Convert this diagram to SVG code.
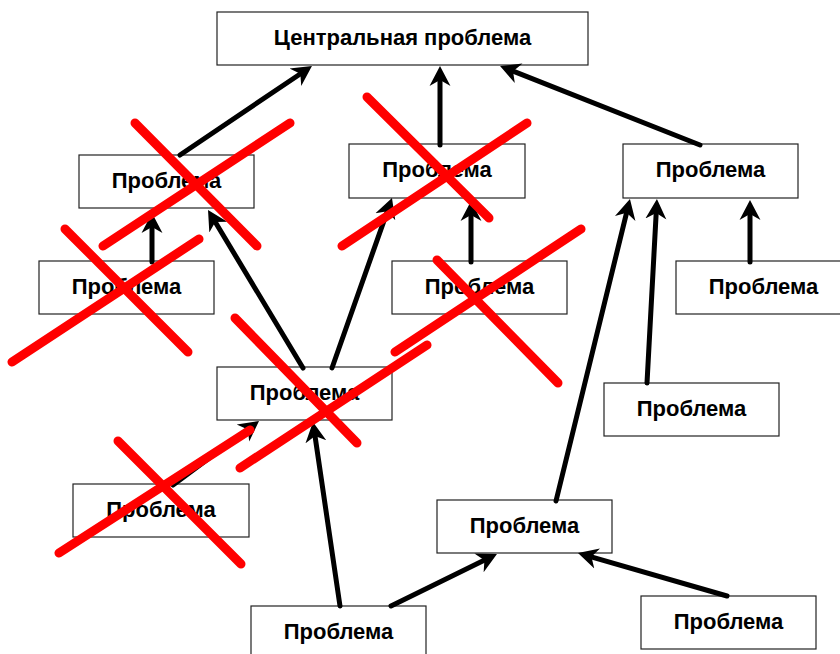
<svg xmlns="http://www.w3.org/2000/svg" width="840" height="654" viewBox="0 0 840 654">
<style>
.box{fill:#fff;stroke:#222;stroke-width:1.2}
.lbl{font-family:"Liberation Sans",Arial,sans-serif;font-weight:bold;font-size:22px;fill:#000;text-anchor:middle}
.arr{stroke:#000;stroke-width:5;stroke-linecap:round;fill:none;marker-end:url(#ah)}
.x{stroke:#ff0000;stroke-width:9;stroke-linecap:round;fill:none}
</style>
<defs>
<marker id="ah" markerUnits="userSpaceOnUse" markerWidth="24" markerHeight="24" viewBox="0 -12 24 24" refX="8" refY="0" orient="auto">
<path d="M0,-10.5 L20,0 L0,10.5 L6,0 Z" fill="#000"/>
</marker>
</defs>
<rect width="840" height="654" fill="#fff"/>
<g id="central"><rect class="box" x="217" y="12" width="371" height="53"/><text class="lbl" x="402.5" y="45">Центральная проблема</text></g>
<g id="nA"><rect class="box" x="79" y="155" width="175" height="53"/><text class="lbl" x="166.5" y="188">Проблема</text></g>
<g id="nB"><rect class="box" x="39" y="261" width="175" height="53"/><text class="lbl" x="126.5" y="294">Проблема</text></g>
<g id="nC"><rect class="box" x="349" y="144" width="176" height="54"/><text class="lbl" x="437" y="177">Проблема</text></g>
<g id="nD"><rect class="box" x="623" y="144" width="175" height="54"/><text class="lbl" x="710.5" y="177">Проблема</text></g>
<g id="nE"><rect class="box" x="392" y="261" width="175" height="53"/><text class="lbl" x="479.5" y="294">Проблема</text></g>
<g id="nF"><rect class="box" x="676" y="261" width="175" height="53"/><text class="lbl" x="763.5" y="294">Проблема</text></g>
<g id="nG"><rect class="box" x="217" y="367" width="175" height="53"/><text class="lbl" x="304.5" y="400">Проблема</text></g>
<g id="nH"><rect class="box" x="73" y="484" width="176" height="53"/><text class="lbl" x="161" y="517">Проблема</text></g>
<g id="nI"><rect class="box" x="251" y="606" width="175" height="53"/><text class="lbl" x="338.5" y="639">Проблема</text></g>
<g id="nJ"><rect class="box" x="604" y="383" width="175" height="53"/><text class="lbl" x="691.5" y="416">Проблема</text></g>
<g id="nK"><rect class="box" x="437" y="500" width="175" height="53"/><text class="lbl" x="524.5" y="533">Проблема</text></g>
<g id="nL"><rect class="box" x="641" y="596" width="175" height="53"/><text class="lbl" x="728.5" y="629">Проблема</text></g>
<g id="connectors">
<line class="arr" x1="180" y1="155" x2="302" y2="72.7"/>
<line class="arr" x1="440" y1="145" x2="440" y2="78"/>
<line class="arr" x1="700" y1="145" x2="511.2" y2="70.4"/>
<line class="arr" x1="152" y1="262" x2="152" y2="225"/>
<line class="arr" x1="303" y1="368" x2="214.2" y2="220.3"/>
<line class="arr" x1="332" y1="368" x2="388" y2="209.3"/>
<line class="arr" x1="471" y1="262" x2="471" y2="213"/>
<line class="arr" x1="750" y1="262" x2="750" y2="212"/>
<line class="arr" x1="647" y1="383" x2="656.3" y2="211"/>
<line class="arr" x1="556" y1="501" x2="627.1" y2="210.7"/>
<line class="arr" x1="173" y1="485" x2="249.4" y2="428.2"/>
<line class="arr" x1="340" y1="606" x2="314.7" y2="433.9"/>
<line class="arr" x1="391" y1="606" x2="486.2" y2="559.3"/>
<line class="arr" x1="727" y1="596" x2="589.5" y2="556.3"/>
</g>
<g id="crosses">
<line class="x" x1="135" y1="123" x2="257" y2="246"/>
<line class="x" x1="290" y1="123" x2="103" y2="246"/>
<line class="x" x1="65" y1="229" x2="188" y2="352"/>
<line class="x" x1="199" y1="239" x2="12" y2="362"/>
<line class="x" x1="367" y1="97" x2="489" y2="218"/>
<line class="x" x1="527" y1="123" x2="342" y2="246"/>
<line class="x" x1="437" y1="260" x2="558" y2="383"/>
<line class="x" x1="581" y1="229" x2="395" y2="352"/>
<line class="x" x1="235" y1="318" x2="357" y2="443"/>
<line class="x" x1="427" y1="345" x2="240" y2="468"/>
<line class="x" x1="118" y1="441" x2="241" y2="564"/>
<line class="x" x1="250" y1="430" x2="59" y2="553"/>
</g>
</svg>
